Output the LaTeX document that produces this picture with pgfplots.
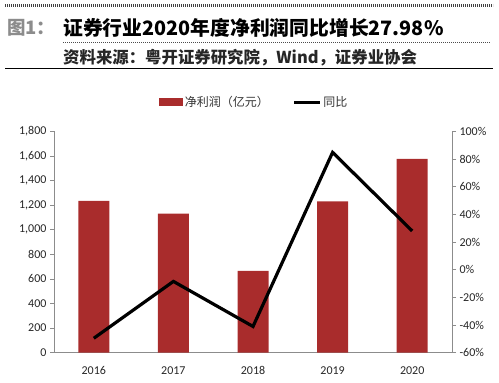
\documentclass[border=0pt]{standalone}
\usepackage{pgfplots}
\pgfplotsset{compat=1.18}
\usepackage{fontspec}
\setmainfont{Carlito}
\newfontfamily\cjk{Noto Sans CJK SC}
\definecolor{barred}{HTML}{A92C2C}
\definecolor{axgray}{HTML}{8C8C8C}
\begin{document}
\begin{tikzpicture}[x=1bp,y=1bp]
\path (0,0) rectangle (499,382);
\draw[line width=3bp, dash pattern=on 1bp off 1bp, black!75] (5,376) -- (493,376);
\node[anchor=west, inner sep=0pt, text=black!45] at (7,354.5) {\cjk\bfseries\fontsize{18.5bp}{20bp}\selectfont 图1：};
\node[anchor=west, inner sep=0pt] at (63,354.5) {\cjk\bfseries\fontsize{19.8bp}{21bp}\selectfont 证券行业2020年度净利润同比增长27.98\%};
\draw[line width=0.9bp, dash pattern=on 1bp off 1bp, black!70] (63,339.3) -- (490,339.3);
\node[anchor=west, inner sep=0pt, text=black!85] at (63,324.5) {\cjk\bfseries\fontsize{16.4bp}{18bp}\selectfont 资料来源：粤开证券研究院，Wind，证券业协会};
\draw[line width=1.5bp, black] (5,313.3) -- (493,313.3);
\begin{axis}[
  at={(54bp,29.3bp)}, anchor=south west,
  scale only axis, width=398bp, height=221.4bp,
  xmin=-0.5, xmax=4.5, ymin=0, ymax=1800,
  axis x line=bottom, axis y line=left,
  axis line style={-, axgray, line width=0.8bp},
  xtick={0,1,2,3,4},
  xticklabels={2016,2017,2018,2019,2020},
  major x tick style={draw=none},
  extra x ticks={-0.5,0.5,1.5,2.5,3.5,4.5},
  extra x tick labels={},
  extra x tick style={tick style={axgray, line width=0.8bp}, major tick length=4bp, tick align=outside},
  ytick={0,200,...,1800},
  y tick label style={/pgf/number format/.cd, 1000 sep={,}},
  /pgf/number format/assume math mode=true,
  tick align=outside, major tick length=4bp,
  tick style={axgray, line width=0.8bp},
  ticklabel style={font=\fontsize{12bp}{14bp}\selectfont, text=black!85},
  x tick label style={yshift=-6bp},
  legend style={at={(0.503,1.131)}, anchor=center, draw=none, fill=none,
    legend columns=2, font=\cjk\fontsize{12bp}{14bp}\selectfont, text=black!80,
    /tikz/every even column/.append style={column sep=22bp}},
  legend image code/.code={\fill[barred] (0bp,-4bp) rectangle (24bp,4bp);},
]
\addplot[ybar, bar width=31bp, fill=barred, draw=none] coordinates {(0,1234) (1,1130) (2,666) (3,1231) (4,1575)};
\addlegendentry{净利润（亿元）}
\addlegendimage{legend image code/.code={\draw[black, line width=2.5bp] (0bp,0bp) -- (26bp,0bp);}}
\addlegendentry{同比}
\end{axis}
\begin{axis}[
  at={(54bp,29.3bp)}, anchor=south west,
  scale only axis, width=398bp, height=221.4bp,
  xmin=-0.5, xmax=4.5, ymin=-60, ymax=100,
  axis x line=none, axis y line*=right,
  axis line style={-, axgray, line width=0.8bp},
  ytick={-60,-40,...,100},
  yticklabel={\pgfmathprintnumber{\tick}\%},
  /pgf/number format/assume math mode=true,
  tick align=outside, major tick length=4bp,
  tick style={axgray, line width=0.8bp},
  ticklabel style={font=\fontsize{12bp}{14bp}\selectfont, text=black!85},
]
\addplot[black, line width=3.2bp, line join=miter] coordinates {(0,-49.57) (1,-8.47) (2,-41.04) (3,84.77) (4,27.98)};
\end{axis}
\end{tikzpicture}
\end{document}
